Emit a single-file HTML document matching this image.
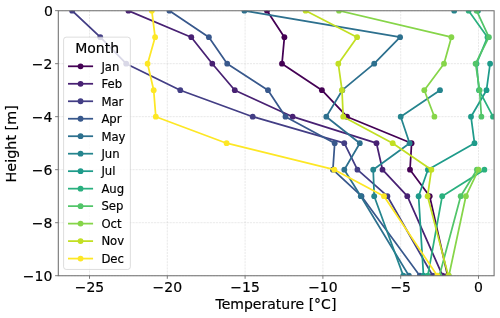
<!DOCTYPE html><html><head><meta charset="utf-8"><title>Temperature profile</title>
<style>html,body{margin:0;padding:0;background:#fff}svg{display:block}text{font-family:"DejaVu Sans","Liberation Sans",sans-serif;fill:#000;stroke:#000;stroke-width:0.18px}</style></head><body>
<svg width="500" height="318" viewBox="0 0 500 318">
<rect width="500" height="318" fill="#fff"/>
<defs><clipPath id="ax"><rect x="58.3" y="10.65" width="435.8" height="265.05"/></clipPath></defs>
<g stroke="#b0b0b0" stroke-opacity="0.45" stroke-width="0.62" stroke-dasharray="2.16 0.93" fill="none"><line x1="89.50" y1="275.7" x2="89.50" y2="10.65"/><line x1="167.30" y1="275.7" x2="167.30" y2="10.65"/><line x1="245.10" y1="275.7" x2="245.10" y2="10.65"/><line x1="322.90" y1="275.7" x2="322.90" y2="10.65"/><line x1="400.70" y1="275.7" x2="400.70" y2="10.65"/><line x1="478.50" y1="275.7" x2="478.50" y2="10.65"/><line x1="58.3" y1="10.65" x2="494.1" y2="10.65"/><line x1="58.3" y1="63.66" x2="494.1" y2="63.66"/><line x1="58.3" y1="116.67" x2="494.1" y2="116.67"/><line x1="58.3" y1="169.68" x2="494.1" y2="169.68"/><line x1="58.3" y1="222.69" x2="494.1" y2="222.69"/><line x1="58.3" y1="275.70" x2="494.1" y2="275.70"/></g>
<g clip-path="url(#ax)" fill="none" stroke-width="1.75" stroke-linejoin="round" stroke-linecap="square">
<path d="M267.0 10.7 L284.4 37.2 L282.0 63.7 L321.9 90.2 L347.0 116.7 L411.6 143.2 L410.0 169.7 L429.7 196.2 L447.6 275.7" stroke="#440154"/>
<g fill="#440154" stroke="none"><circle cx="267.0" cy="10.7" r="2.9"/><circle cx="284.4" cy="37.2" r="2.9"/><circle cx="282.0" cy="63.7" r="2.9"/><circle cx="321.9" cy="90.2" r="2.9"/><circle cx="347.0" cy="116.7" r="2.9"/><circle cx="411.6" cy="143.2" r="2.9"/><circle cx="410.0" cy="169.7" r="2.9"/><circle cx="429.7" cy="196.2" r="2.9"/><circle cx="447.6" cy="275.7" r="2.9"/></g>
<path d="M128.4 10.7 L191.3 37.2 L212.3 63.7 L234.8 90.2 L292.6 116.7 L376.5 143.2 L382.5 169.7 L407.3 196.2 L442.6 275.7" stroke="#482173"/>
<g fill="#482173" stroke="none"><circle cx="128.4" cy="10.7" r="2.9"/><circle cx="191.3" cy="37.2" r="2.9"/><circle cx="212.3" cy="63.7" r="2.9"/><circle cx="234.8" cy="90.2" r="2.9"/><circle cx="292.6" cy="116.7" r="2.9"/><circle cx="376.5" cy="143.2" r="2.9"/><circle cx="382.5" cy="169.7" r="2.9"/><circle cx="407.3" cy="196.2" r="2.9"/><circle cx="442.6" cy="275.7" r="2.9"/></g>
<path d="M72.1 10.7 L100.3 37.2 L126.2 63.7 L180.3 90.2 L252.7 116.7 L344.3 143.2 L357.4 169.7 L387.4 196.2 L432.7 275.7" stroke="#433e85"/>
<g fill="#433e85" stroke="none"><circle cx="72.1" cy="10.7" r="2.9"/><circle cx="100.3" cy="37.2" r="2.9"/><circle cx="126.2" cy="63.7" r="2.9"/><circle cx="180.3" cy="90.2" r="2.9"/><circle cx="252.7" cy="116.7" r="2.9"/><circle cx="344.3" cy="143.2" r="2.9"/><circle cx="357.4" cy="169.7" r="2.9"/><circle cx="387.4" cy="196.2" r="2.9"/><circle cx="432.7" cy="275.7" r="2.9"/></g>
<path d="M169.4 10.7 L208.9 37.2 L227.2 63.7 L268.0 90.2 L285.5 116.7 L334.7 143.2 L332.9 169.7 L361.5 196.2 L419.8 275.7" stroke="#38588c"/>
<g fill="#38588c" stroke="none"><circle cx="169.4" cy="10.7" r="2.9"/><circle cx="208.9" cy="37.2" r="2.9"/><circle cx="227.2" cy="63.7" r="2.9"/><circle cx="268.0" cy="90.2" r="2.9"/><circle cx="285.5" cy="116.7" r="2.9"/><circle cx="334.7" cy="143.2" r="2.9"/><circle cx="332.9" cy="169.7" r="2.9"/><circle cx="361.5" cy="196.2" r="2.9"/><circle cx="419.8" cy="275.7" r="2.9"/></g>
<path d="M244.4 10.7 L400.1 37.2 L374.2 63.7 L342.3 90.2 L326.3 116.7 L359.8 143.2 L344.3 169.7 L360.8 196.2 L408.9 275.7" stroke="#2d708e"/>
<g fill="#2d708e" stroke="none"><circle cx="244.4" cy="10.7" r="2.9"/><circle cx="400.1" cy="37.2" r="2.9"/><circle cx="374.2" cy="63.7" r="2.9"/><circle cx="342.3" cy="90.2" r="2.9"/><circle cx="326.3" cy="116.7" r="2.9"/><circle cx="359.8" cy="143.2" r="2.9"/><circle cx="344.3" cy="169.7" r="2.9"/><circle cx="360.8" cy="196.2" r="2.9"/><circle cx="408.9" cy="275.7" r="2.9"/></g>
<path d="M440.0 90.2 L400.7 116.7 L409.6 143.2 L373.2 169.7 L374.2 196.2 L403.3 275.7" stroke="#25858e"/>
<g fill="#25858e" stroke="none"><circle cx="454.2" cy="10.7" r="2.9"/><circle cx="440.0" cy="90.2" r="2.9"/><circle cx="400.7" cy="116.7" r="2.9"/><circle cx="409.6" cy="143.2" r="2.9"/><circle cx="373.2" cy="169.7" r="2.9"/><circle cx="374.2" cy="196.2" r="2.9"/><circle cx="403.3" cy="275.7" r="2.9"/></g>
<path d="M490.1 63.7 L486.5 90.2 L471.0 116.7 L474.5 143.2 L427.9 169.7 L418.6 196.2 L423.5 275.7" stroke="#1e9b8a"/>
<g fill="#1e9b8a" stroke="none"><circle cx="478.0" cy="10.7" r="2.9"/><circle cx="490.1" cy="63.7" r="2.9"/><circle cx="486.5" cy="90.2" r="2.9"/><circle cx="471.0" cy="116.7" r="2.9"/><circle cx="474.5" cy="143.2" r="2.9"/><circle cx="427.9" cy="169.7" r="2.9"/><circle cx="418.6" cy="196.2" r="2.9"/><circle cx="423.5" cy="275.7" r="2.9"/></g>
<path d="M468.6 10.7 L487.5 37.2 L476.5 63.7 L479.0 90.2 L493.0 116.7 M484.4 169.7 L442.2 196.2 L427.8 275.7" stroke="#2ab07f"/>
<g fill="#2ab07f" stroke="none"><circle cx="468.6" cy="10.7" r="2.9"/><circle cx="487.5" cy="37.2" r="2.9"/><circle cx="476.5" cy="63.7" r="2.9"/><circle cx="479.0" cy="90.2" r="2.9"/><circle cx="493.0" cy="116.7" r="2.9"/><circle cx="484.4" cy="169.7" r="2.9"/><circle cx="442.2" cy="196.2" r="2.9"/><circle cx="427.8" cy="275.7" r="2.9"/></g>
<path d="M476.6 10.7 L488.9 37.2 L475.6 63.7 L479.6 90.2 L481.4 116.7 M476.9 169.7 L460.7 196.2 L439.4 275.7" stroke="#52c569"/>
<g fill="#52c569" stroke="none"><circle cx="476.6" cy="10.7" r="2.9"/><circle cx="488.9" cy="37.2" r="2.9"/><circle cx="475.6" cy="63.7" r="2.9"/><circle cx="479.6" cy="90.2" r="2.9"/><circle cx="481.4" cy="116.7" r="2.9"/><circle cx="476.9" cy="169.7" r="2.9"/><circle cx="460.7" cy="196.2" r="2.9"/><circle cx="439.4" cy="275.7" r="2.9"/></g>
<path d="M339.0 10.7 L451.4 37.2 L444.0 63.7 L424.3 90.2 L434.4 116.7 M478.5 169.7 L465.9 196.2 L448.9 275.7" stroke="#86d549"/>
<g fill="#86d549" stroke="none"><circle cx="339.0" cy="10.7" r="2.9"/><circle cx="451.4" cy="37.2" r="2.9"/><circle cx="444.0" cy="63.7" r="2.9"/><circle cx="424.3" cy="90.2" r="2.9"/><circle cx="434.4" cy="116.7" r="2.9"/><circle cx="478.5" cy="169.7" r="2.9"/><circle cx="465.9" cy="196.2" r="2.9"/><circle cx="448.9" cy="275.7" r="2.9"/></g>
<path d="M305.6 10.7 L357.1 37.2 L338.3 63.7 L342.0 90.2 L343.2 116.7 L392.7 143.2 L431.4 169.7 L427.6 196.2 L448.3 275.7" stroke="#c2df23"/>
<g fill="#c2df23" stroke="none"><circle cx="305.6" cy="10.7" r="2.9"/><circle cx="357.1" cy="37.2" r="2.9"/><circle cx="338.3" cy="63.7" r="2.9"/><circle cx="342.0" cy="90.2" r="2.9"/><circle cx="343.2" cy="116.7" r="2.9"/><circle cx="392.7" cy="143.2" r="2.9"/><circle cx="431.4" cy="169.7" r="2.9"/><circle cx="427.6" cy="196.2" r="2.9"/><circle cx="448.3" cy="275.7" r="2.9"/></g>
<path d="M151.8 10.7 L155.1 37.2 L147.6 63.7 L153.7 90.2 L155.8 116.7 L226.6 143.2 L334.3 169.7 L384.0 196.2 L437.3 275.7" stroke="#fde725"/>
<g fill="#fde725" stroke="none"><circle cx="151.8" cy="10.7" r="2.9"/><circle cx="155.1" cy="37.2" r="2.9"/><circle cx="147.6" cy="63.7" r="2.9"/><circle cx="153.7" cy="90.2" r="2.9"/><circle cx="155.8" cy="116.7" r="2.9"/><circle cx="226.6" cy="143.2" r="2.9"/><circle cx="334.3" cy="169.7" r="2.9"/><circle cx="384.0" cy="196.2" r="2.9"/><circle cx="437.3" cy="275.7" r="2.9"/></g>
</g>
<g stroke="#6e6e6e" stroke-width="0.9"><line x1="89.50" y1="275.7" x2="89.50" y2="278.8"/><line x1="167.30" y1="275.7" x2="167.30" y2="278.8"/><line x1="245.10" y1="275.7" x2="245.10" y2="278.8"/><line x1="322.90" y1="275.7" x2="322.90" y2="278.8"/><line x1="400.70" y1="275.7" x2="400.70" y2="278.8"/><line x1="478.50" y1="275.7" x2="478.50" y2="278.8"/><line x1="58.3" y1="10.65" x2="55.1" y2="10.65"/><line x1="58.3" y1="63.66" x2="55.1" y2="63.66"/><line x1="58.3" y1="116.67" x2="55.1" y2="116.67"/><line x1="58.3" y1="169.68" x2="55.1" y2="169.68"/><line x1="58.3" y1="222.69" x2="55.1" y2="222.69"/><line x1="58.3" y1="275.70" x2="55.1" y2="275.70"/></g>
<path d="M58.3 10.65 H494.1 V275.7 H58.3 Z" fill="none" stroke="#6e6e6e" stroke-width="1.05" stroke-linejoin="miter"/>
<text x="89.50" y="292" font-size="14" text-anchor="middle">−25</text>
<text x="167.30" y="292" font-size="14" text-anchor="middle">−20</text>
<text x="245.10" y="292" font-size="14" text-anchor="middle">−15</text>
<text x="322.90" y="292" font-size="14" text-anchor="middle">−10</text>
<text x="400.70" y="292" font-size="14" text-anchor="middle">−5</text>
<text x="478.50" y="292" font-size="14" text-anchor="middle">0</text>
<text x="52.9" y="15.75" font-size="14" text-anchor="end">0</text>
<text x="52.4" y="68.76" font-size="14" text-anchor="end">−2</text>
<text x="52.4" y="121.77" font-size="14" text-anchor="end">−4</text>
<text x="52.4" y="174.78" font-size="14" text-anchor="end">−6</text>
<text x="52.4" y="227.79" font-size="14" text-anchor="end">−8</text>
<text x="52.4" y="280.80" font-size="14" text-anchor="end">−10</text>
<text x="275.95" y="309.3" font-size="14" text-anchor="middle">Temperature [°C]</text>
<text transform="translate(16.4 143.85) rotate(-90)" font-size="14.35" text-anchor="middle">Height [m]</text>
<rect x="63.6" y="37.15" width="66.75" height="232.3" rx="2.6" ry="2.6" fill="#fff" fill-opacity="0.8" stroke="#cccccc" stroke-opacity="0.7" stroke-width="0.95"/>
<text x="97.15" y="52.7" font-size="14" text-anchor="middle">Month</text>
<line x1="68.9" y1="66.30" x2="92.2" y2="66.30" stroke="#440154" stroke-width="1.75" stroke-linecap="square"/>
<circle cx="80.55" cy="66.30" r="2.9" fill="#440154"/>
<text x="101.4" y="70.60" font-size="11.67">Jan</text>
<line x1="68.9" y1="83.78" x2="92.2" y2="83.78" stroke="#482173" stroke-width="1.75" stroke-linecap="square"/>
<circle cx="80.55" cy="83.78" r="2.9" fill="#482173"/>
<text x="101.4" y="88.08" font-size="11.67">Feb</text>
<line x1="68.9" y1="101.26" x2="92.2" y2="101.26" stroke="#433e85" stroke-width="1.75" stroke-linecap="square"/>
<circle cx="80.55" cy="101.26" r="2.9" fill="#433e85"/>
<text x="101.4" y="105.56" font-size="11.67">Mar</text>
<line x1="68.9" y1="118.74" x2="92.2" y2="118.74" stroke="#38588c" stroke-width="1.75" stroke-linecap="square"/>
<circle cx="80.55" cy="118.74" r="2.9" fill="#38588c"/>
<text x="101.4" y="123.04" font-size="11.67">Apr</text>
<line x1="68.9" y1="136.22" x2="92.2" y2="136.22" stroke="#2d708e" stroke-width="1.75" stroke-linecap="square"/>
<circle cx="80.55" cy="136.22" r="2.9" fill="#2d708e"/>
<text x="101.4" y="140.52" font-size="11.67">May</text>
<line x1="68.9" y1="153.70" x2="92.2" y2="153.70" stroke="#25858e" stroke-width="1.75" stroke-linecap="square"/>
<circle cx="80.55" cy="153.70" r="2.9" fill="#25858e"/>
<text x="101.4" y="158.00" font-size="11.67">Jun</text>
<line x1="68.9" y1="171.18" x2="92.2" y2="171.18" stroke="#1e9b8a" stroke-width="1.75" stroke-linecap="square"/>
<circle cx="80.55" cy="171.18" r="2.9" fill="#1e9b8a"/>
<text x="101.4" y="175.48" font-size="11.67">Jul</text>
<line x1="68.9" y1="188.66" x2="92.2" y2="188.66" stroke="#2ab07f" stroke-width="1.75" stroke-linecap="square"/>
<circle cx="80.55" cy="188.66" r="2.9" fill="#2ab07f"/>
<text x="101.4" y="192.96" font-size="11.67">Aug</text>
<line x1="68.9" y1="206.14" x2="92.2" y2="206.14" stroke="#52c569" stroke-width="1.75" stroke-linecap="square"/>
<circle cx="80.55" cy="206.14" r="2.9" fill="#52c569"/>
<text x="101.4" y="210.44" font-size="11.67">Sep</text>
<line x1="68.9" y1="223.62" x2="92.2" y2="223.62" stroke="#86d549" stroke-width="1.75" stroke-linecap="square"/>
<circle cx="80.55" cy="223.62" r="2.9" fill="#86d549"/>
<text x="101.4" y="227.92" font-size="11.67">Oct</text>
<line x1="68.9" y1="241.10" x2="92.2" y2="241.10" stroke="#c2df23" stroke-width="1.75" stroke-linecap="square"/>
<circle cx="80.55" cy="241.10" r="2.9" fill="#c2df23"/>
<text x="101.4" y="245.40" font-size="11.67">Nov</text>
<line x1="68.9" y1="258.58" x2="92.2" y2="258.58" stroke="#fde725" stroke-width="1.75" stroke-linecap="square"/>
<circle cx="80.55" cy="258.58" r="2.9" fill="#fde725"/>
<text x="101.4" y="262.88" font-size="11.67">Dec</text>
</svg></body></html>
